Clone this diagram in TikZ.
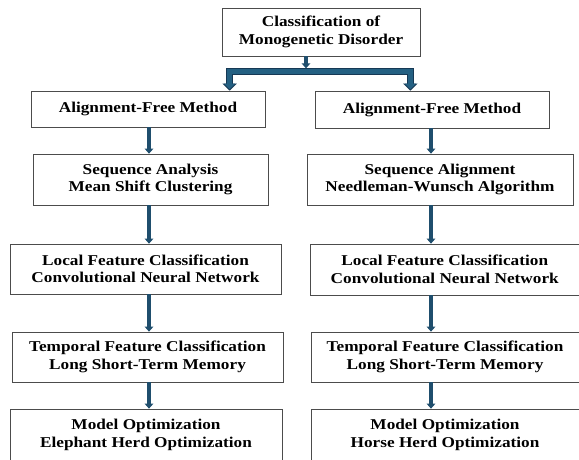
\documentclass[tikz,border=0pt]{standalone}
\usepackage{fontspec}
\setmainfont{Liberation Serif}[FakeStretch=1.15]
\usetikzlibrary{arrows.meta, positioning, calc}
\definecolor{arrowblue}{RGB}{31,78,109}
\definecolor{forkfill}{RGB}{36,96,130}
\definecolor{forkedge}{RGB}{22,56,84}

\begin{document}
\begin{tikzpicture}[
  x=1pt, y=-1pt,
  box/.style={rectangle, draw=black!70, line width=0.7pt, fill=white, align=center, inner sep=0pt, font=\fontsize{15}{17.5}\selectfont\bfseries},
  flow/.style={draw=arrowblue, line width=3.6pt, -{Triangle[width=8.5pt,length=5pt]}},
  fork/.style={draw=forkedge, line width=6.5pt, line join=miter,
    {Triangle[width=14pt,length=7pt]}-{Triangle[width=14pt,length=7pt]},
    postaction={draw=forkfill, line width=4.5pt, shorten <=1.5pt, shorten >=1.5pt,
      {Triangle[width=11pt,length=5.5pt]}-{Triangle[width=11pt,length=5.5pt]}}}
]
  \useasboundingbox (0,0) rectangle (579,459);

  \node[box, minimum width=198pt, minimum height=48pt] (top) at (321,32) {Classification of\\Monogenetic Disorder};

  \node[box, minimum width=234pt, minimum height=36pt] (l1) at (148,109) {Alignment-Free Method};
  \node[box, minimum width=235pt, minimum height=51pt] (l2) at (150.5,179.5) {Sequence Analysis\\Mean Shift Clustering};
  \node[box, minimum width=271pt, minimum height=50pt] (l3) at (145.5,269) {Local Feature Classification\\Convolutional Neural Network};
  \node[box, minimum width=271pt, minimum height=50pt] (l4) at (147.5,357) {Temporal Feature Classification\\Long Short-Term Memory};
  \node[box, minimum width=272pt, minimum height=52pt] (l5) at (146,435) {Model Optimization\\Elephant Herd Optimization};

  \node[box, minimum width=234pt, minimum height=37pt] (r1) at (432,109.5) {Alignment-Free Method};
  \node[box, minimum width=266pt, minimum height=51pt] (r2) at (440,179.5) {Sequence Alignment\\Needleman-Wunsch Algorithm};
  \node[box, minimum width=269.5pt, minimum height=51pt] (r3) at (444.75,269.5) {Local Feature Classification\\Convolutional Neural Network};
  \node[box, minimum width=268pt, minimum height=50pt] (r4) at (445,357) {Temporal Feature Classification\\Long Short-Term Memory};
  \node[box, minimum width=268pt, minimum height=52pt] (r5) at (445,435) {Model Optimization\\Horse Herd Optimization};

  \coordinate (legL) at ($(top.south west)+(8,15)$);
  \coordinate (legR) at ($(top.south east)+(-10,15)$);
  \coordinate (colL) at (149,0);
  \coordinate (colR) at (431,0);

  \draw[fork] (legL |- l1.north) -- (legL) -- (legR) -- (legR |- r1.north);
  \draw[flow, shorten >=3pt] ([xshift=-15pt]top.south) -- ([xshift=-15pt]top.south |- legL);

  \draw[flow] (l1.south -| colL) -- (l2.north -| colL);
  \draw[flow] (l2.south -| colL) -- (l3.north -| colL);
  \draw[flow] (l3.south -| colL) -- (l4.north -| colL);
  \draw[flow] (l4.south -| colL) -- (l5.north -| colL);

  \draw[flow] (r1.south -| colR) -- (r2.north -| colR);
  \draw[flow] (r2.south -| colR) -- (r3.north -| colR);
  \draw[flow] (r3.south -| colR) -- (r4.north -| colR);
  \draw[flow] (r4.south -| colR) -- (r5.north -| colR);
\end{tikzpicture}
\end{document}
